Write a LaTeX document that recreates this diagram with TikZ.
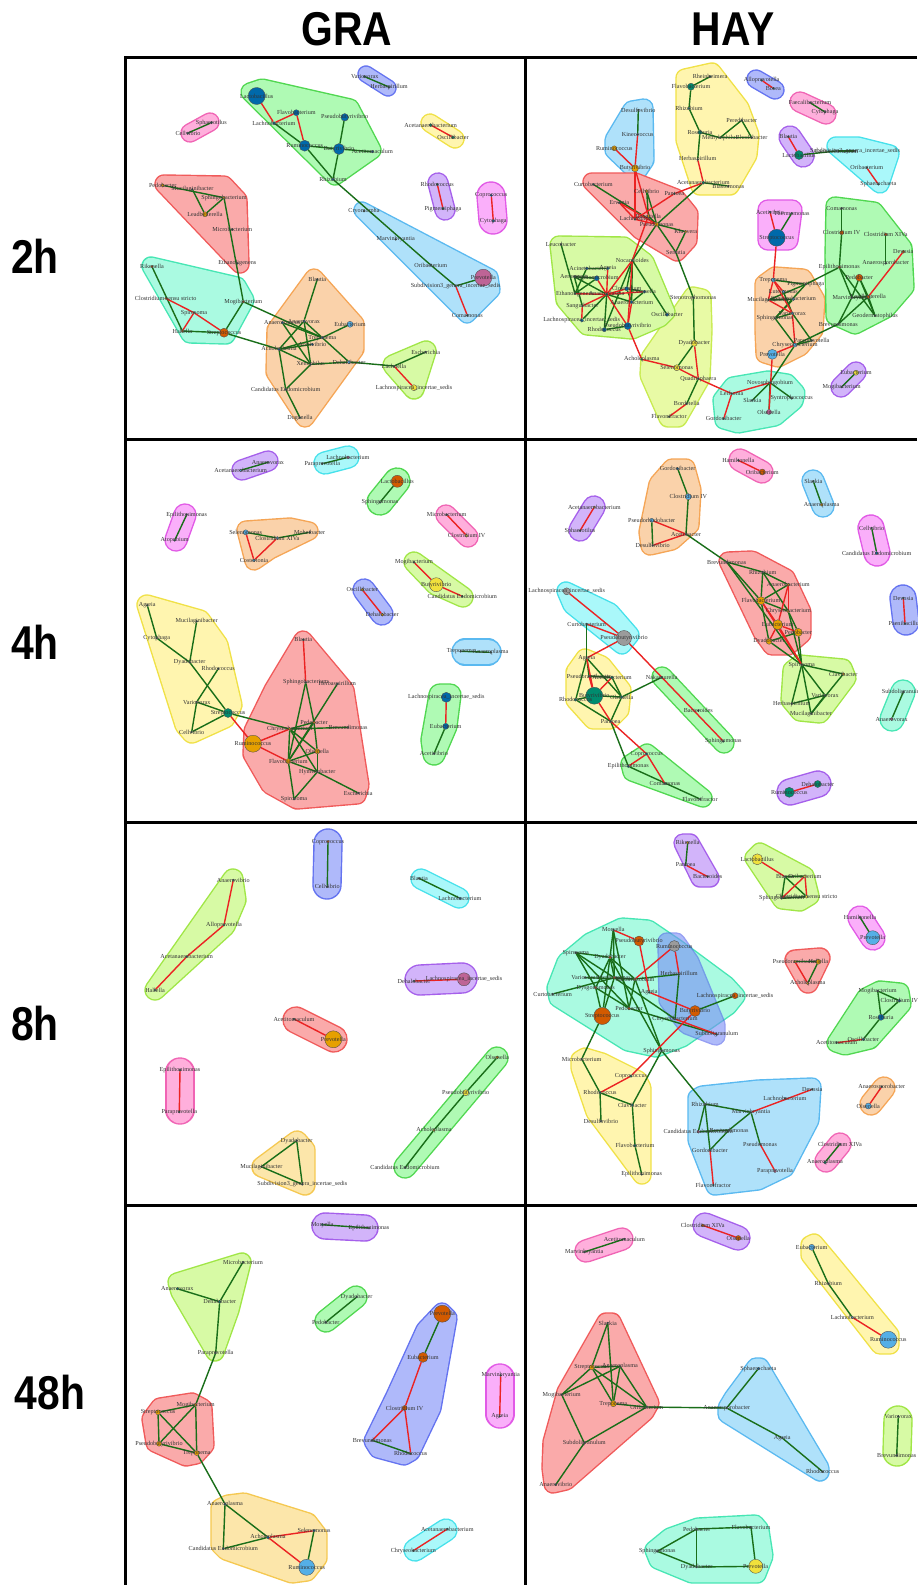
\documentclass[tikz,border=0pt]{standalone}
\usepackage{fontspec}
\usepackage{graphicx}
\newfontfamily\lblfont{Liberation Serif}
\newfontfamily\hdfont{Liberation Sans}
\pgfdeclarelayer{hulls}
\pgfdeclarelayer{edges}
\pgfsetlayers{hulls,edges,main}
\definecolor{ndblue}{RGB}{0,105,170}
\definecolor{norange}{RGB}{230,160,0}
\definecolor{ndorange}{RGB}{210,90,0}
\definecolor{nteal}{RGB}{0,140,110}
\definecolor{nlblue}{RGB}{85,175,230}
\definecolor{nyellow}{RGB}{240,225,60}
\definecolor{nmauve}{RGB}{190,100,150}
\definecolor{ngrey}{RGB}{155,155,155}
\definecolor{nsm}{RGB}{25,95,85}
\definecolor{egreen}{RGB}{25,110,25}
\definecolor{ered}{RGB}{235,35,35}
\definecolor{hgreenD}{RGB}{80,215,80}\definecolor{hgreenL}{RGB}{175,250,180}
\definecolor{hblueD}{RGB}{100,115,240}\definecolor{hblueL}{RGB}{175,185,250}
\definecolor{hdeepD}{RGB}{80,95,235}\definecolor{hdeepL}{RGB}{120,140,245}
\definecolor{hpinkD}{RGB}{240,100,180}\definecolor{hpinkL}{RGB}{255,175,220}
\definecolor{hmagD}{RGB}{225,90,230}\definecolor{hmagL}{RGB}{250,175,250}
\definecolor{hyellowD}{RGB}{240,225,70}\definecolor{hyellowL}{RGB}{255,245,175}
\definecolor{hredD}{RGB}{240,90,90}\definecolor{hredL}{RGB}{250,170,170}
\definecolor{hpurpD}{RGB}{165,95,235}\definecolor{hpurpL}{RGB}{210,180,250}
\definecolor{hcyanD}{RGB}{70,225,235}\definecolor{hcyanL}{RGB}{170,248,250}
\definecolor{hskyD}{RGB}{90,185,240}\definecolor{hskyL}{RGB}{175,225,250}
\definecolor{horgD}{RGB}{245,165,85}\definecolor{horgL}{RGB}{250,210,170}
\definecolor{hlimeD}{RGB}{160,230,70}\definecolor{hlimeL}{RGB}{215,250,165}
\definecolor{htealD}{RGB}{70,230,180}\definecolor{htealL}{RGB}{170,250,225}
\definecolor{hgoldD}{RGB}{245,200,80}\definecolor{hgoldL}{RGB}{252,230,170}
\definecolor{hlyD}{RGB}{200,235,80}\definecolor{hlyL}{RGB}{232,250,165}
\newcommand\blob[3]{%
  \path[draw=h#1D, fill=h#1D, line width={#2*1.138pt+0.8pt}, line join=round] #3 -- cycle;
  \path[draw=h#1L, fill=h#1L, line width={#2*1.138pt-0.8pt}, line join=round] #3 -- cycle;}
\begin{document}
\begin{tikzpicture}[x=0.2mm, y=-0.2mm,
    dot/.style={circle, draw=black!70, line width=0.2pt, inner sep=0pt},
    lbl/.style={font={\lblfont\fontsize{3.5}{4}\selectfont}, text=black!80, inner sep=0pt},
    hd/.style={font={\hdfont\bfseries\fontsize{27}{30}\selectfont}},
    posedge/.style={draw=egreen, line width=0.8pt},
    negedge/.style={draw=ered, line width=0.8pt},
    frame/.style={draw=black, line width=1.7pt}]
	\useasboundingbox (0,0) rectangle (917,1585);

	\node[hd] (gra) at (347,29) {\scalebox{0.86}[1]{GRA}};
	\node[hd] (hay) at (733,29) {\scalebox{0.86}[1]{HAY}};
	\node[hd] (t2) at (35,256) {\scalebox{0.86}[1]{2h}};
	\node[hd] (t4) at (35,642) {\scalebox{0.86}[1]{4h}};
	\node[hd] (t8) at (35,1024) {\scalebox{0.86}[1]{8h}};
	\node[hd] (t48) at (50,1393) {\scalebox{0.86}[1]{48h}};

	\begin{pgfonlayer}{hulls}
		\fill[white] (0,0) rectangle (917,1585);
		\blob{green}{9}{(250,92)--(262,88)--(350,108)--(372,150)--(335,176)}
		\blob{blue}{8}{(366,74)--(388,88)}
		\blob{pink}{9}{(190,133)--(210,122)}
		\blob{yellow}{9}{(430,123)--(455,139)}
		\blob{purp}{10}{(438,183)--(445,210)}
		\blob{mag}{14}{(491,196)--(493,220)}
		\blob{red}{9}{(164,184)--(224,185)--(238,200)--(240,264)}
		\blob{teal}{9}{(151,266)--(237,286)--(245,300)--(226,335)--(190,334)}
		\blob{sky}{8}{(362,210)--(490,277)--(492,290)--(467,315)}
		\blob{org}{9}{(276,330)--(314,278)--(355,324)--(355,349)--(305,418)--(275,372)}
		\blob{lime}{10}{(393,365)--(426,351)--(414,389)}

		\blob{yellow}{9}{(685,78)--(712,72)--(740,108)--(750,135)--(748,155)--(730,186)--(700,186)--(685,140)}
		\blob{sky}{9}{(614,140)--(632,110)--(644,108)--(645,160)--(637,172)--(614,150)}
		\blob{red}{9}{(592,182)--(635,182)--(676,198)--(689,214)--(688,240)--(677,252)--(640,230)}
		\blob{ly}{9}{(650,358)--(693,296)--(702,298)--(703,330)--(701,378)--(678,418)--(668,418)--(649,375)}
		\blob{lime}{9}{(559,245)--(624,246)--(645,262)--(666,312)--(660,318)--(632,330)--(587,326)--(565,300)}
		\blob{teal}{9}{(722,400)--(733,386)--(768,380)--(787,383)--(796,393)--(794,401)--(775,417)--(738,424)--(724,420)}
		\blob{mag}{10}{(768,210)--(792,210)--(788,240)--(768,240)}
		\blob{org}{9}{(764,284)--(775,276)--(803,278)--(816,300)--(814,330)--(800,347)--(778,358)--(765,354)--(764,330)}
		\blob{green}{9}{(835,206)--(874,211)--(903,248)--(905,287)--(886,309)--(855,325)--(835,316)--(834,256)}
		\blob{blue}{9}{(756,79)--(775,90)}
		\blob{pink}{10}{(800,102)--(826,114)}
		\blob{purp}{11}{(790,137)--(803,156)}
		\blob{cyan}{9}{(836,146)--(858,146)--(890,154)--(880,184)}
		\blob{purp}{10}{(856,372)--(841,387)}

		\blob{purp}{10}{(242,470)--(268,461)}
		\blob{cyan}{11}{(325,463)--(348,457)}
		\blob{green}{13}{(397,481)--(380,502)}
		\blob{mag}{11}{(185,515)--(176,540)}
		\blob{org}{9}{(246,530)--(290,527)--(309,531)--(270,550)--(254,561)}
		\blob{pink}{10}{(446,515)--(468,537)}
		\blob{lime}{10}{(414,562)--(436,585)--(463,597)}
		\blob{blue}{11}{(364,590)--(382,614)}
		\blob{sky}{13}{(465,652)--(488,652)}
		\blob{green}{11}{(440,695)--(450,695)--(446,726)--(434,754)--(432,740)}
		\blob{yellow}{10}{(147,605)--(200,620)--(218,645)--(232,705)--(225,718)--(192,733)--(185,725)}
		\blob{red}{9}{(253,731)--(273,690)--(303,640)--(345,690)--(360,785)--(357,795)--(297,800)--(270,785)--(252,754)}

		\blob{pink}{11}{(740,460)--(762,472)}
		\blob{sky}{11}{(813,481)--(823,506)}
		\blob{mag}{13}{(871,528)--(877,553)}
		\blob{blue}{13}{(903,598)--(906,622)}
		\blob{teal}{12}{(903,692)--(892,719)}
		\blob{purp}{13}{(790,792)--(818,784)}
		\blob{purp}{11}{(594,507)--(580,530)}
		\blob{org}{9}{(648,532)--(658,484)--(672,468)--(686,468)--(692,490)--(690,525)--(672,541)--(650,546)}
		\blob{red}{9}{(728,561)--(752,560)--(786,578)--(802,612)--(802,634)--(788,646)--(772,646)--(762,632)}
		\blob{lime}{9}{(792,670)--(800,664)--(843,668)--(847,678)--(820,714)--(800,712)--(790,700)}
		\blob{cyan}{9}{(566,591)--(610,612)--(630,635)--(622,645)--(572,605)}
		\blob{yellow}{9}{(575,672)--(585,658)--(602,665)--(622,690)--(620,710)--(610,720)--(593,720)--(575,700)}
		\blob{green}{10}{(662,677)--(724,743)}
		\blob{green}{9}{(630,764)--(647,753)--(703,798)--(632,772)}

		\blob{blue}{14}{(328,843)--(327,885)}
		\blob{cyan}{10}{(421,879)--(459,898)}
		\blob{lime}{10}{(155,990)--(233,879)--(236,900)--(225,926)}
		\blob{purp}{15}{(420,980)--(462,978)}
		\blob{red}{13}{(296,1020)--(334,1039)}
		\blob{pink}{14}{(180,1072)--(180,1110)}
		\blob{green}{11}{(405,1167)--(497,1058)}
		\blob{gold}{10}{(262,1167)--(297,1141)--(305,1150)--(305,1185)}

		\blob{purp}{9}{(683,843)--(690,843)--(710,878)--(700,878)}
		\blob{lime}{9}{(754,858)--(760,852)--(805,876)--(810,896)--(800,902)--(782,900)}
		\blob{mag}{12}{(860,918)--(873,938)}
		\blob{red}{10}{(795,960)--(820,958)--(808,983)}
		\blob{green}{9}{(836,1043)--(866,997)--(880,990)--(900,992)--(902,1004)--(870,1040)--(845,1046)}
		\blob{org}{11}{(871,1104)--(884,1088)}
		\blob{pink}{11}{(840,1144)--(826,1161)}
		\blob{teal}{9}{(556,988)--(566,962)--(590,942)--(622,927)--(648,929)--(676,948)--(726,985)--(736,996)--(728,1006)--(682,1038)--(656,1048)--(628,1042)--(558,998)}
		\begin{scope}[transparency group, opacity=0.6]
			\blob{deep}{9}{(667,942)--(676,942)--(690,962)--(716,1025)--(716,1036)--(687,1025)--(668,1000)}
		\end{scope}
		\blob{yellow}{9}{(580,1060)--(585,1057)--(602,1062)--(638,1080)--(642,1088)--(642,1175)--(595,1112)--(580,1068)}
		\blob{sky}{9}{(697,1098)--(702,1095)--(758,1089)--(812,1087)--(810,1120)--(785,1168)--(758,1181)--(715,1186)--(697,1140)}

		\blob{purp}{13}{(325,1226)--(365,1228)}
		\blob{lime}{9}{(177,1282)--(242,1262)--(230,1310)--(215,1352)--(180,1292)}
		\blob{green}{11}{(356,1297)--(326,1321)}
		\blob{blue}{9}{(373,1441)--(395,1396)--(425,1330)--(442,1312)--(448,1318)--(432,1408)--(411,1452)--(404,1456)--(378,1449)}
		\blob{mag}{14}{(500,1378)--(500,1414)}
		\blob{red}{9}{(151,1419)--(160,1407)--(192,1402)--(203,1408)--(205,1445)--(196,1455)--(186,1457)--(155,1443)}
		\blob{gold}{9}{(220,1508)--(228,1504)--(244,1502)--(308,1522)--(318,1535)--(318,1558)--(307,1572)--(292,1574)--(226,1551)--(220,1545)}
		\blob{cyan}{11}{(446,1530)--(415,1550)}

		\blob{purp}{12}{(705,1225)--(738,1238)}
		\blob{pink}{11}{(586,1251)--(622,1239)}
		\blob{yellow}{9}{(810,1245)--(814,1243)--(830,1262)--(890,1335)--(890,1345)--(880,1345)--(810,1255)}
		\blob{lime}{14}{(898,1420)--(897,1452)}
		\blob{red}{9}{(552,1442)--(566,1392)--(606,1322)--(612,1322)--(650,1403)--(645,1412)--(566,1481)--(553,1484)--(551,1468)}
		\blob{sky}{9}{(727,1408)--(733,1398)--(756,1367)--(760,1367)--(820,1468)--(820,1472)--(727,1414)}
		\blob{teal}{9}{(654,1550)--(670,1537)--(698,1527)--(755,1524)--(760,1530)--(764,1556)--(757,1574)--(692,1574)--(658,1560)}
	\end{pgfonlayer}

	\foreach \n/\x/\y/\col/\sz/\lab in {
		a-lac/256.7/96/ndblue/17/Lactobacillus, a-flv/296.3/112.7/ndblue/6/Flavobacterium,
		a-lcb/274/123/ndblue/3/Lachnobacterium, a-psb/344.7/117.3/ndblue/7.5/Pseudobutyrivibrio,
		a-rum/304.7/145.7/ndblue/11/Ruminococcus, a-but/339/149/ndblue/11/Butyrivibrio,
		a-acm/372.3/151.7/ndblue/2.5/Acetitomaculum, a-rhz/333/179.3/ndblue/2.5/Rhizobium,
		a-vrx/364.7/76.7/nsm/2.5/Variovorax, a-hbs/389/87/nsm/2.5/Herbaspirillum,
		a-sph/211.3/122.7/nsm/2.5/Sphaerotilus, a-cvb/188/133/nsm/2.5/Cellvibrio,
		a-aca/430.7/125/nteal/3/Acetanaerobacterium, a-osc/453/137.3/nteal/3/Oscillibacter,
		a-rho/437.3/184.3/nsm/2.5/Rhodococcus, a-pig/443/208.7/nsm/2.5/Pigmentiphaga,
		a-cop/491.3/195.3/ndblue/2.5/Coprococcus, a-cyt/493.3/221/ndblue/2.5/Cytophaga,
		a-ped/162.7/185.3/norange/3.5/Pedobacter, a-muc/192.3/189.3/nsm/2/Mucilaginibacter,
		a-spb/224/197.7/norange/2.5/Sphingobacterium, a-lea/205/214.3/norange/5/Leadbetterella,
		a-mic/232.3/229.3/nsm/2/Microbacterium, a-eth/237.3/263.3/nsm/2/Ethanoligenens,
		a-rik/152/266.7/ndorange/2.5/Rikenella, a-css/165.7/298.3/ndorange/2/Clostridium sensu stricto,
		a-spi/194/312.7/ndorange/2/Spirosoma, a-hal/182.3/331/ndorange/2.5/Hallella,
		a-str/224/332.7/ndorange/9/Streptococcus, a-mog/243.3/301.7/ndorange/2.5/Mogibacterium,
		a-cry/364/211/nsm/2/Cryomorpha, a-mar/395.7/239.3/nsm/2/Marvinbryantia,
		a-ori/430.7/265/nsm/2.5/Oribacterium, a-pre/483.3/277.7/nmauve/17/Prevotella,
		a-sub/455.7/286/nsm/2/Subdivision3\_genera\_incertae\_sedis, a-com/467.3/315.3/nsm/2/Comamonas,
		a-bla/317.3/279.3/nsm/2/Blautia, a-anv/304/321/ndblue/2.5/Anaerovorax,
		a-ant/282.3/322.7/ndblue/2.5/Anaerotruncus, a-tre/322.3/337.7/ndblue/2.5/Treponema,
		a-ach/279/349.3/ndblue/2.5/Acholeplasma, a-acv/312.3/344.3/ndblue/2.5/Acetivibrio,
		a-eub/350/324.3/nlblue/6/Eubacterium, a-xen/310.7/364.3/nsm/2/Xenophilus,
		a-deh/349/362/nlblue/3.5/Dehalobacter, a-cen/285.7/389.3/nsm/2/Candidatus Endomicrobium,
		a-dug/300/417.7/nsm/2/Duganella, a-esc/425.7/352/nsm/2/Escherichia,
		a-lcn/394/366/nsm/2/Lachnella, a-lis/414/387.7/nyellow/6/Lachnospiracea\_incertae\_sedis} {
		\node[dot, fill=\col, minimum size=\sz*0.2mm] (\n) at (\x,\y) {};
		\node[lbl] at (\x,\y) {\lab};
	}

	\foreach \n/\x/\y/\col/\sz/\lab in {
		b-rhe/710/76.7/nsm/2.5/Rheinheimera, b-flb/691/86.7/nteal/7/Flavobacterium,
		b-rhz/689/108.3/nteal/2.5/Rhizobium, b-ros/700/132.3/nteal/4/Roseburia,
		b-per/741.7/120.3/nsm/2/Peredibacter, b-mth/720/137.7/nsm/2/Methylophilus,
		b-rhb/751.7/137.7/nsm/2/Rhodobacter, b-hbs/697.7/159.3/nsm/2/Herbaspirillum,
		b-aca/703.3/182.7/nteal/3/Acetanaerobacterium, b-blm/728.3/186/nsm/2/Blastomonas,
		b-des/638.3/110/nsm/2/Desulfovibrio, b-kin/637.7/134.3/nsm/2/Kineococcus,
		b-rmc/614.3/148.3/norange/5/Ruminococcus, b-btv/635/168.3/norange/7/Butyrivibrio,
		b-cur/593.3/184.3/nsm/2/Curtobacterium, b-cvb/646.7/191/norange/3/Cellvibrio,
		b-pan/674.3/193.7/nsm/2/Pantoea, b-erw/619.3/202.7/nsm/2/Erwinia,
		b-lch/635/219.3/nsm/2/Lachnospira, b-rao/648.3/216/norange/3/Raoultella,
		b-pse/656.7/224.3/norange/4/Pseudomonas, b-kle/685.7/231.7/norange/2.5/Kluyvera,
		b-ser/675.7/252/nsm/2/Serratia, b-leu/561/244.3/nsm/2/Leucobacter,
		b-noc/632.3/260.3/nsm/2/Nocardioides, b-aci/586.7/268.3/ndblue/3/Acinetobacter,
		b-agr/607.7/268.3/ndblue/3/Agreia, b-aer/574.3/276.7/nsm/2/Aeromonas,
		b-hyp/596.7/278.3/ndblue/5/Hyphomicrobium, b-clo/626.7/288.7/ndblue/4/Clostridium,
		b-ola/644.3/291.7/ndblue/3/Olsenella, b-eth/575/293.7/nsm/2/Ethanoligenens,
		b-anp/606.7/294.3/nsm/2.5/Anaeroplasma, b-amn/631.7/302/ndblue/3/Anaerobacterium,
		b-san/582.3/306/nsm/2/Sanguibacter, b-osc/667/314.7/ndblue/3.5/Oscillibacter,
		b-lis/581.7/320.3/ndblue/3.5/Lachnospiracea\_incertae\_sedis, b-rhd/604.3/329.7/ndblue/4/Rhodococcus,
		b-psb/627.7/326/ndblue/7/Pseudobutyrivibrio, b-ste/693.3/297.7/nsm/2/Stenotrophomonas,
		b-dya/694.3/343.3/nyellow/6/Dyadobacter, b-ach/641.7/359.3/nsm/2/Acholeplasma,
		b-sel/676.7/367.7/nyellow/6/Selenomonas, b-qua/698.3/378.7/nsm/2/Quadrisphaera,
		b-bor/686.7/403.7/nsm/2/Bordetella, b-flf/669/416.7/nsm/2/Flavonifractor,
		b-nov/770/382.7/nsm/2/Novosphingobium, b-lei/731.7/393.7/nsm/2/Leifsonia,
		b-sla/752.3/400.3/nsm/2/Slackia, b-syn/791.7/398.3/nsm/2/Syntrophococcus,
		b-ols/769/412/nmauve/5/Olsenella, b-gor/723.7/418.7/nsm/2/Gordonibacter,
		b-acv/770/212/nsm/2/Acetivibrio, b-thm/791.7/213.3/nsm/2/Thermomonas,
		b-stc/776.7/237.7/ndblue/17/Streptococcus, b-tre/773.3/280/nlblue/4/Treponema,
		b-pgm/805.7/284.3/nsm/2/Pigmentiphaga, b-lut/783.3/291.7/nlblue/3/Luteimonas,
		b-muc/768.3/300/nsm/2/Mucilaginibacter, b-spb/793.3/299.3/nlblue/3/Sphingobacterium,
		b-vrx/792.3/313.3/nlblue/3/Variovorax, b-sgm/775/318.3/nsm/2/Sphingomonas,
		b-chr/795/345/nlblue/4/Chryseobacterium, b-ppv/811.7/340.7/nsm/2/Paraprevotella,
		b-prv/772.3/354.3/nlblue/10/Prevotella, b-com/841.7/208.3/nsm/2/Comamonas,
		b-c4/841.7/232.7/ndorange/4/Clostridium IV, b-cxv/885.7/234.3/ndorange/3/Clostridium XIVa,
		b-dev/903.3/251.7/ndorange/3/Devosia, b-ana/885.7/263.3/nsm/2/Anaerosporobacter,
		b-epi/839.3/267.3/ndorange/3/Epilithonimonas, b-ped/859.3/277.7/ndorange/7/Pedobacter,
		b-mar/851.7/297.7/nsm/2/Marvinbryantia, b-lea/868.3/296.7/ndorange/3.5/Leadbetterella,
		b-geo/875/315.7/nsm/2/Geodermatophilus, b-brv/838.3/324/nsm/2/Brevundimonas,
		b-all/761.7/80.3/nsm/2/Alloprevotella, b-bos/773.3/88.3/nsm/2/Bosea,
		b-fae/810/102.7/nsm/2/Faecalibacterium, b-cyt/825/112/nsm/2/Cytophaga,
		b-bla/788.3/136.7/nsm/2/Blautia, b-lcl/799/155/nteal/9/Lactobacillus,
		b-sdv/855/151/nsm/2/Subdivision3\_genera\_incertae\_sedis, b-lcb/836.7/151/nsm/2/Lachnobacterium,
		b-ori/866.7/167.7/nsm/2/Oribacterium, b-sph/878.3/184.3/nsm/2/Sphaerochaeta,
		b-eub/856/372.7/nyellow/5/Eubacterium, b-mgb/841.7/387/nsm/2/Mogibacterium} {
		\node[dot, fill=\col, minimum size=\sz*0.2mm] (\n) at (\x,\y) {};
		\node[lbl] at (\x,\y) {\lab};
	}

	\foreach \n/\x/\y/\col/\sz/\lab in {
		c-avx/268/462.3/nsm/2/Anaerovorax, c-aca/240.7/470.3/nlblue/2.5/Acetanaerobacterium,
		c-lch/348/457.3/nmauve/3/Lachnobacterium, c-ppv/322.3/463.7/nsm/2/Paraprevotella,
		c-lct/397.3/481.3/ndorange/12/Lactobacillus, c-sgm/380/502.3/nsm/2/Sphingomonas,
		c-epi/186.7/514.7/nsm/2/Epilithonimonas, c-ato/174.7/540.3/nsm/2/Atopobium,
		c-sel/245.7/532.3/nlblue/5/Selenomonas, c-cxv/277.3/538/nlblue/3/Clostridium XIVa,
		c-mhb/309.7/532.3/nsm/2/Moheibacter, c-cst/254/560.3/nlblue/3/Costertonia,
		c-mic/446.7/514.7/nsm/2/Microbacterium, c-c4/466.7/535.7/nyellow/3/Clostridium IV,
		c-mog/414/562.3/nsm/2/Mogibacterium, c-btv/436.3/584.7/nyellow/14/Butyrivibrio,
		c-cen/462.3/596.3/nsm/2/Candidatus Endomicrobium, c-osc/362.3/589.7/norange/3/Oscillibacter,
		c-deh/382.3/614.7/norange/3/Dehalobacter, c-tre/460.7/651.3/nsm/2/Treponema,
		c-anp/490.7/652.3/nsm/2/Anaeroplasma, c-lis/446.3/697.3/ndblue/10/Lachnospiracea\_incertae\_sedis,
		c-eub/445.7/726.3/ndblue/6/Eubacterium, c-acv/434/753.7/nsm/2/Acetivibrio,
		c-agr/147.3/605.3/nsm/2/Agreia, c-mcl/196.7/621.3/nsm/2/Mucilaginibacter,
		c-cyt/156.7/638/nsm/2/Cytophaga, c-dya/189.7/662.3/nsm/2/Dyadobacter,
		c-rho/218.3/668.7/nsm/2/Rhodococcus, c-vrx/196.7/702/nsm/2/Variovorax,
		c-stp/228/713/nteal/9/Streptococcus, c-cvb/191.7/732/nsm/2/Cellvibrio,
		c-bla/303.3/639.7/nsm/2/Blautia, c-sgb/305.7/682.3/nsm/2/Sphingobacterium,
		c-hbs/337.3/684/nsm/2/Herbaspirillum, c-ped/314/722.3/norange/3/Pedobacter,
		c-brv/348/727.3/nsm/2/Brevundimonas, c-chr/289.7/729/norange/3/Chryseobacterium,
		c-rum/253/743.7/norange/17/Ruminococcus, c-ols/317.3/751.3/norange/5/Olsenella,
		c-flv/288.3/761.3/norange/5/Flavobacterium, c-hym/317.3/772/nsm/2/Hymenobacter,
		c-esc/358.3/793/nsm/2/Escherichia, c-spr/294/799/nsm/2/Spirosoma} {
		\node[dot, fill=\col, minimum size=\sz*0.2mm] (\n) at (\x,\y) {};
		\node[lbl] at (\x,\y) {\lab};
	}

	\foreach \n/\x/\y/\col/\sz/\lab in {
		d-ham/738.3/460.3/nsm/2/Hamiltonella, d-ori/762.3/472/ndorange/6/Oribacterium,
		d-sla/813.3/481.3/nsm/2/Slackia, d-anp/821.7/504.7/norange/3/Anaeroplasma,
		d-cvb/871.7/528/nsm/2/Cellvibrio, d-cen/876.7/553/ndblue/3/Candidatus Endomicrobium,
		d-dev/903.3/598/nsm/2/Devosia, d-pae/905/623.7/nsm/2/Paenibacillus,
		d-sdl/903.3/692/nsm/2/Subdoligranulum, d-avx/891.7/719/nmauve/3/Anaerovorax,
		d-rum/789.3/792.3/nteal/10/Ruminococcus, d-deh/817.7/784/nteal/7/Dehalobacter,
		d-aca/594.3/507/norange/2/Acetanaerobacterium, d-sph/580/530.7/nsm/2/Sphaerotilus,
		d-gor/677.7/468.7/ndblue/2.5/Gordonibacter, d-c4/688.3/496.7/nlblue/6/Clostridium IV,
		d-psr/651.7/520.3/nlblue/4/Pseudorhodobacter, d-acb/686/534/nsm/2/Acetobacter,
		d-dsv/652.7/545.3/nsm/2/Desulfovibrio, d-brv/726.7/562/nsm/2/Brevundimonas,
		d-rhz/762.7/572/nsm/2/Rhizobium, d-ana/788.3/584.7/norange/3/Anaerobacterium,
		d-flv/761/600.7/norange/8/Flavobacterium, d-chr/788.3/611.3/norange/3/Chryseobacterium,
		d-eub/777.7/624.7/norange/10/Eubacterium, d-ped/798.3/632.3/norange/8/Pedobacter,
		d-dya/769/641.3/norange/6/Dyadobacter, d-spi/801.7/664.7/nsm/2/Spirosoma,
		d-clv/843.3/674/norange/2.5/Clavibacter, d-vrx/825/695.3/nsm/2/Variovorax,
		d-hbs/791.7/703.7/nsm/2/Herbaspirillum, d-mcl/811/713.7/nsm/2/Mucilaginibacter,
		d-lis/566.7/591.3/ngrey/7/Lachnospiracea\_incertae\_sedis, d-cur/586.7/624/nsm/2/Curtobacterium,
		d-psb/624/638/ngrey/15/Pseudobutyrivibrio, d-agr/586.7/658/nsm/2/Agreia,
		d-prb/589/676/nsm/2/Pseudoramibacter, d-acm/612/677.3/nteal/3/Acetobacterium,
		d-btv/594.3/695.7/nteal/17/Butyrivibrio, d-rhd/575.7/699.7/nteal/3/Rhodococcus,
		d-ols/621.7/697/nteal/3/Olsenella, d-pan/610.7/721.3/nsm/2/Pantoea,
		d-nak/661.7/677.3/nsm/2/Nakamurella, d-bac/698.3/710.7/nsm/2/Bacteroides,
		d-sgm/723.3/741.3/nsm/2/Sphingomonas, d-cop/646.7/754/ndblue/2.5/Coprococcus,
		d-eps/628.3/766.3/ndblue/2.5/Epilithonimonas, d-cmm/665/783.7/nsm/2/Comamonas,
		d-flf/700/799/nsm/2/Flavonifractor} {
		\node[dot, fill=\col, minimum size=\sz*0.2mm] (\n) at (\x,\y) {};
		\node[lbl] at (\x,\y) {\lab};
	}

	\foreach \n/\x/\y/\col/\sz/\lab in {
		e-cop/328/841.7/ndorange/2.5/Coprococcus, e-cvb/327.3/886.7/nsm/2/Cellvibrio,
		e-bla/419/878.3/nsm/2/Blautia, e-lcb/460/898.3/ndblue/2.5/Lachnobacterium,
		e-anv/233.3/880/nsm/2/Anaerovibrio, e-alp/224/925/nsm/2/Alloprevotella,
		e-acb/186.7/956.7/nsm/2/Acetanaerobacterium, e-hal/155/990/nsm/2/Hallella,
		e-deh/414/981/nsm/2/Dehalobacter, e-lis/464/979.3/nmauve/13/Lachnospiracea\_incertae\_sedis,
		e-acm/294/1019/nsm/2/Acetitomaculum, e-prv/333.3/1039.3/norange/17/Prevotella,
		e-epi/180/1070/nsm/2/Epilithonimonas, e-ppv/179.3/1112/nsm/2/Paraprevotella,
		e-olb/497.3/1057.3/norange/3/Olsenella, e-pbv/465.7/1092.7/nyellow/6/Pseudobutyrivibrio,
		e-ach/434/1130/norange/2.5/Acholeplasma, e-cen/405/1167.7/nsm/2/Candidatus Endomicrobium,
		e-dya/296.7/1140.7/nsm/2/Dyadobacter, e-mcl/261.3/1166.7/nsm/2/Mucilaginibacter,
		e-sdv/302.3/1184.3/nsm/2/Subdivision3\_genera\_incertae\_sedis} {
		\node[dot, fill=\col, minimum size=\sz*0.2mm] (\n) at (\x,\y) {};
		\node[lbl] at (\x,\y) {\lab};
	}

	\foreach \n/\x/\y/\col/\sz/\lab in {
		f-rik/687.7/842.7/norange/2.5/Rikenella, f-pan/685.7/865/nsm/2/Pantoea,
		f-bac/707.7/876.7/nsm/2/Bacteroides, f-lcb/757.3/859.3/nyellow/11/Lactobacillus,
		f-bla/785/876.7/nsm/2/Blautia, f-ori/805/876/nyellow/3/Oribacterium,
		f-spb/781.7/898.3/nsm/2/Sphingobacterium, f-css/806.7/896.7/nyellow/3/Clostridium sensu stricto,
		f-ham/860/917.3/nsm/2/Hamiltonella, f-prv/872.7/937.7/nlblue/14/Prevotella,
		f-psb/795/961.7/norange/2.5/Pseudoramibacter, f-hal/818.3/961.7/norange/5/Hallella,
		f-ach/807.7/983.3/norange/2.5/Acholeplasma, f-mog/877.7/991/nsm/2/Mogibacterium,
		f-c4/899.3/1000.7/ndblue/3/Clostridium IV, f-ros/881/1017.3/ndblue/6/Roseburia,
		f-osc/863.3/1039.3/ndblue/2.5/Oscillibacter, f-acm/836.7/1042.7/nsm/2/Acetitomaculum,
		f-ana/881.7/1086.7/nsm/2/Anaerosporobacter, f-ols/868.3/1106/nlblue/6/Olsenella,
		f-cxv/840/1144/nsm/2/Clostridium XIVa, f-anp/825/1162.3/nteal/3/Anaeroplasma,
		f-mry/613.3/930/nsm/2/Moryella, f-psv/639/941/ndorange/10/Pseudobutyrivibrio,
		f-rum/674.3/946/ngrey/11/Ruminococcus, f-spi/575.7/952.7/nsm/2/Spirosoma,
		f-dya/610/957.3/ndorange/3/Dyadobacter, f-hbs/679/974.3/nsm/2/Herbaspirillum,
		f-vrx/585/977.7/nsm/2/Variovorax, f-hyp/614.3/977.7/ndorange/2.5/Hyphomonas,
		f-mes/635/979/ndorange/2.5/Mesorhizobium, f-dap/595.7/987.7/ndorange/2.5/Dysgonomonas,
		f-cur/552.7/994/nsm/2/Curtobacterium, f-agr/649.3/992.3/nsm/2/Agreia,
		f-lis/735/995.7/ndorange/6/Lachnospiracea\_incertae\_sedis, f-ped/629/1008.3/ndorange/3/Pedobacter,
		f-btv/695/1011/ndorange/11/Butyrivibrio, f-str/602.3/1016/ndorange/17/Streptococcus,
		f-chr/675/1019/nsm/2/Chryseobacterium, f-sdg/716.7/1034.3/nsm/2/Subdoligranulum,
		f-sgm/661.7/1050.7/nsm/2/Sphingomonas, f-mic/581.7/1059/nsm/2/Microbacterium,
		f-cpc/631/1076/nteal/2.5/Coprococcus, f-rhd/600/1092.7/nteal/2.5/Rhodococcus,
		f-clv/632.3/1105/nteal/2.5/Clavibacter, f-dsv/601/1121/nsm/2/Desulfovibrio,
		f-flv/635/1145.7/nteal/3/Flavobacterium, f-epi/641.7/1174.3/nsm/2/Epilithonimonas,
		f-rhz/705/1104/nsm/2/Rhizobium, f-dev/812.3/1089.3/nsm/2/Devosia,
		f-lcn/785/1098.3/nsm/2/Lachnobacterium, f-mar/751/1112.3/nsm/2/Marvinbryantia,
		f-cen/698.3/1131.7/nmauve/3/Candidatus Endomicrobium, f-bre/729/1130/nsm/2/Brevundimonas,
		f-pse/760/1144/nsm/2/Pseudomonas, f-gor/710/1150/nsm/2/Gordonibacter,
		f-ppv/775/1171/nmauve/3/Paraprevotella, f-flf/713.3/1185/nsm/2/Flavonifractor} {
		\node[dot, fill=\col, minimum size=\sz*0.2mm] (\n) at (\x,\y) {};
		\node[lbl] at (\x,\y) {\lab};
	}

	\foreach \n/\x/\y/\col/\sz/\lab in {
		g-mry/322.3/1224.7/nteal/2.5/Moryella, g-epi/369/1228/nsm/2/Epilithonimonas,
		g-mic/243/1262/nsm/2/Microbacterium, g-avx/177.3/1288.7/nteal/2.5/Anaerovorax,
		g-deh/219.7/1301.7/nteal/3/Dehalobacter, g-ppv/215.7/1353/nsm/2/Paraprevotella,
		g-dya/356.7/1297/nsm/2/Dyadobacter, g-ped/325.7/1322.3/nsm/2/Pedobacter,
		g-prv/442.3/1313.7/ndorange/17/Prevotella, g-eub/423/1357.3/ndorange/10/Eubacterium,
		g-c4/404.7/1408/ndorange/5/Clostridium IV, g-brv/372.3/1440.3/nsm/2/Brevundimonas,
		g-rhd/410.7/1453.7/nsm/2/Rhodococcus, g-mvb/500.7/1375.3/nsm/2/Marvinbryantia,
		g-agr/499.7/1416.3/nsm/2/Agreia, g-mog/195.7/1404.7/norange/3/Mogibacterium,
		g-stc/158/1412.3/norange/5/Streptococcus, g-psb/159/1443.7/norange/5/Pseudobutyrivibrio,
		g-tre/196.7/1453/norange/5/Treponema, g-anp/225/1504/ndblue/2.5/Anaeroplasma,
		g-ach/268/1537.3/ndblue/3/Acholeplasma, g-sel/314/1530.7/ndblue/2.5/Selenomonas,
		g-cen/223.3/1548.7/ndblue/2/Candidatus Endomicrobium, g-rmc/306.7/1567.3/nlblue/16/Ruminococcus,
		g-acb/447.3/1529/nsm/2/Acetanaerobacterium, g-chr/413.3/1550.7/nsm/2/Chryseobacterium} {
		\node[dot, fill=\col, minimum size=\sz*0.2mm] (\n) at (\x,\y) {};
		\node[lbl] at (\x,\y) {\lab};
	}

	\foreach \n/\x/\y/\col/\sz/\lab in {
		h-cxv/702.7/1225.3/ndorange/3/Clostridium XIVa, h-olb/738.3/1238/ndorange/5/Olsenella,
		h-acm/624.3/1239/nsm/2/Acetitomaculum, h-mvb/584.3/1252/nsm/2/Marvinbryantia,
		h-eub/811.7/1247.3/nlblue/6/Eubacterium, h-rhz/828.3/1283.7/nsm/2/Rhizobium,
		h-lcb/852.3/1317.3/nlblue/2.5/Lachnobacterium, h-rmc/888.3/1339.7/nlblue/17/Ruminococcus,
		h-vrx/898.3/1416.3/nsm/2/Variovorax, h-brv/896.7/1455.3/nsm/2/Brevundimonas,
		h-sla/607.7/1323/nsm/2/Slackia, h-stc/591.7/1367.3/norange/5/Streptococcus,
		h-anp/620/1366.3/nsm/2/Anaeroplasma, h-mog/561.7/1394.7/nsm/2/Mogibacterium,
		h-tre/613.3/1403.7/norange/6/Treponema, h-ori/646.7/1407/nsm/2/Oribacterium,
		h-sdl/584.3/1443/nsm/2/Subdoligranulum, h-anv/555.7/1484.7/nsm/2/Anaerovibrio,
		h-sph/758.3/1368.7/ndblue/2.5/Sphaerochaeta, h-aps/726.7/1408/nsm/2/Anaerosporobacter,
		h-agr/782.3/1438/nsm/2/Agreia, h-rhd/822.7/1471.7/nsm/2/Rhodococcus,
		h-ped/696.7/1529/nsm/2/Pedobacter, h-flv/751/1527/nsm/2/Flavobacterium,
		h-sgm/657.3/1551.3/nsm/2/Sphingomonas, h-dya/696.7/1567/nsm/2/Dyadobacter,
		h-prv/755.7/1566.3/nyellow/14/Prevotella} {
		\node[dot, fill=\col, minimum size=\sz*0.2mm] (\n) at (\x,\y) {};
		\node[lbl] at (\x,\y) {\lab};
	}

	\begin{pgfonlayer}{edges}
		\foreach \p/\q in {a-lcb/a-rum, a-rum/a-but, a-but/a-acm, a-psb/a-but, a-but/a-rhz, a-rum/a-rhz,
			a-rhz/a-ori, a-ori/a-sub, a-sub/a-pre, a-vrx/a-hbs, a-sph/a-cvb, a-ped/a-spb, a-muc/a-lea,
			a-lea/a-spb, a-spb/a-mog, a-rik/a-hal, a-hal/a-str, a-str/a-mog, a-str/a-ach, a-mog/a-tre,
			a-bla/a-anv, a-anv/a-ach, a-anv/a-xen, a-anv/a-tre, a-ant/a-tre, a-ant/a-xen, a-ach/a-tre,
			a-ach/a-acv, a-ach/a-xen, a-ach/a-cen, a-tre/a-eub, a-tre/a-deh, a-xen/a-deh, a-xen/a-cen,
			a-cen/a-dug, a-deh/a-lcn, a-lcn/a-esc}
			\draw[posedge] (\p) -- (\q);
		\foreach \p/\q in {a-lac/a-lcb, a-lcb/a-flv, a-flv/a-rum, a-sub/a-com, a-aca/a-osc, a-rho/a-pig,
			a-cop/a-cyt, a-css/a-spi, a-spi/a-str, a-spi/a-hal, a-lcn/a-lis}
			\draw[negedge] (\p) -- (\q);

		\foreach \p/\q in {b-rhe/b-flb, b-flb/b-rhz, b-rhz/b-ros, b-ros/b-hbs, b-ros/b-mth, b-per/b-mth,
			b-per/b-rhb, b-mth/b-rhb, b-aca/b-blm, b-aca/b-pse, b-des/b-kin, b-cur/b-pse, b-cvb/b-pse,
			b-cvb/b-rao, b-rao/b-pse, b-pse/b-kle, b-pse/b-ser, b-kle/b-ser, b-pse/b-noc, b-ser/b-ste,
			b-ste/b-dya, b-leu/b-eth, b-noc/b-clo, b-noc/b-amn, b-noc/b-osc, b-noc/b-rhd, b-aci/b-agr,
			b-aci/b-eth, b-aer/b-hyp, b-aer/b-anp, b-aer/b-san, b-hyp/b-eth, b-anp/b-amn, b-anp/b-lis,
			b-anp/b-rhd, b-clo/b-ola, b-clo/b-amn, b-ola/b-amn, b-rhd/b-psb, b-dya/b-sel, b-qua/b-bor,
			b-nov/b-sla, b-nov/b-syn, b-nov/b-ols, b-nov/b-chr, b-thm/b-stc, b-tre/b-pgm, b-pgm/b-muc,
			b-pgm/b-sgm, b-lut/b-vrx, b-muc/b-spb, b-spb/b-sgm, b-vrx/b-sgm, b-sgm/b-chr, b-vrx/b-ppv,
			b-chr/b-ppv, b-com/b-c4, b-c4/b-epi, b-cxv/b-ana, b-epi/b-mar, b-epi/b-geo, b-epi/b-pgm,
			b-ped/b-mar, b-ped/b-lea, b-ped/b-geo, b-mar/b-lea, b-mar/b-brv, b-lea/b-brv, b-lea/b-geo,
			b-brv/b-chr, b-fae/b-cyt, b-lcl/b-lcb, b-lcb/b-sdv, b-eub/b-mgb}
			\draw[posedge] (\p) -- (\q);
		\foreach \p/\q in {b-hbs/b-aca, b-aca/b-pan, b-kin/b-btv, b-rmc/b-btv, b-btv/b-rao, b-btv/b-lch,
			b-erw/b-lch, b-erw/b-pse, b-pan/b-lch, b-lch/b-pse, b-rao/b-noc, b-noc/b-anp, b-agr/b-anp,
			b-hyp/b-anp, b-eth/b-anp, b-anp/b-clo, b-anp/b-ola, b-anp/b-san, b-anp/b-psb, b-san/b-lis,
			b-psb/b-amn, b-noc/b-psb, b-psb/b-ach, b-ach/b-sel, b-dya/b-qua, b-sel/b-qua, b-qua/b-lei,
			b-bor/b-flf, b-lei/b-nov, b-lei/b-gor, b-acv/b-stc, b-stc/b-tre, b-tre/b-lut, b-tre/b-muc,
			b-tre/b-vrx, b-muc/b-vrx, b-vrx/b-chr, b-chr/b-prv, b-prv/b-ols, b-dev/b-lea, b-all/b-bos,
			b-bla/b-lcl, b-ori/b-sph}
			\draw[negedge] (\p) -- (\q);

		\foreach \p/\q in {c-avx/c-aca, c-lch/c-ppv, c-lct/c-sgm, c-epi/c-ato, c-sel/c-cxv, c-cxv/c-mhb,
			c-tre/c-anp, c-eub/c-acv, c-agr/c-cyt, c-cyt/c-dya, c-dya/c-stp, c-mcl/c-dya, c-rho/c-vrx,
			c-vrx/c-cvb, c-vrx/c-stp, c-cvb/c-stp, c-stp/c-chr, c-sgb/c-ped, c-sgb/c-flv, c-hbs/c-flv,
			c-chr/c-brv, c-chr/c-ols, c-chr/c-hym, c-chr/c-flv, c-ped/c-ols, c-ped/c-flv, c-ped/c-chr,
			c-flv/c-ols, c-flv/c-spr, c-hym/c-spr, c-hym/c-esc, c-ols/c-hym, c-flv/c-hym}
			\draw[posedge] (\p) -- (\q);
		\foreach \p/\q in {c-sel/c-cst, c-cxv/c-cst, c-mic/c-c4, c-mog/c-btv, c-btv/c-cen, c-osc/c-deh,
			c-lis/c-eub, c-stp/c-rum, c-bla/c-sgb, c-chr/c-rum, c-rum/c-flv}
			\draw[negedge] (\p) -- (\q);

		\foreach \p/\q in {d-sla/d-anp, d-cvb/d-cen, d-sdl/d-avx, d-gor/d-c4, d-c4/d-acb, d-psr/d-dsv,
			d-acb/d-brv, d-brv/d-rhz, d-brv/d-flv, d-brv/d-spi, d-rhz/d-ana, d-rhz/d-flv, d-rhz/d-chr,
			d-ana/d-flv, d-flv/d-chr, d-flv/d-dya, d-chr/d-ped, d-ped/d-dya, d-ped/d-spi, d-dya/d-spi,
			d-chr/d-spi, d-spi/d-clv, d-spi/d-vrx, d-spi/d-hbs, d-spi/d-mcl, d-clv/d-mcl, d-vrx/d-hbs,
			d-vrx/d-mcl, d-cur/d-agr, d-agr/d-prb, d-agr/d-rhd, d-agr/d-ols, d-prb/d-acm, d-acm/d-ols,
			d-btv/d-rhd, d-btv/d-ols, d-rhd/d-pan, d-ols/d-pan, d-ols/d-nak, d-pan/d-eps, d-eps/d-flf}
			\draw[posedge] (\p) -- (\q);
		\foreach \p/\q in {d-ham/d-ori, d-dev/d-pae, d-rum/d-deh, d-aca/d-sph, d-psr/d-acb, d-dsv/d-acb,
			d-ana/d-chr, d-ana/d-eub, d-flv/d-eub, d-eub/d-ped, d-eub/d-dya, d-eub/d-spi, d-flv/d-spi,
			d-lis/d-psb, d-cur/d-psb, d-psb/d-agr, d-psb/d-sgm, d-agr/d-btv, d-prb/d-btv, d-acm/d-btv,
			d-btv/d-pan, d-pan/d-cop, d-cop/d-eps, d-cop/d-cmm}
			\draw[negedge] (\p) -- (\q);

		\foreach \p/\q in {e-cop/e-cvb, e-bla/e-lcb, e-olb/e-pbv, e-pbv/e-ach, e-ach/e-cen, e-dya/e-mcl,
			e-dya/e-sdv, e-mcl/e-sdv}
			\draw[posedge] (\p) -- (\q);
		\foreach \p/\q in {e-anv/e-alp, e-alp/e-acb, e-acb/e-hal, e-deh/e-lis, e-acm/e-prv, e-epi/e-ppv}
			\draw[negedge] (\p) -- (\q);

		\foreach \p/\q in {f-rik/f-pan, f-bla/f-ori, f-bla/f-spb, f-bla/f-css, f-spb/f-css, f-ham/f-prv,
			f-hal/f-ach, f-psb/f-hal, f-mog/f-c4, f-mog/f-ros, f-c4/f-ros, f-ros/f-osc, f-cxv/f-anp,
			f-mry/f-dya, f-mry/f-ped, f-mry/f-hyp, f-hbs/f-chr, f-spi/f-dya, f-spi/f-dap, f-spi/f-ped,
			f-spi/f-hyp, f-dya/f-hyp, f-dya/f-mes, f-dya/f-str, f-dya/f-dap, f-dya/f-sgm, f-vrx/f-mes,
			f-cur/f-hyp, f-dap/f-ped, f-dap/f-str, f-hyp/f-mes, f-mes/f-hbs, f-mes/f-ped, f-mes/f-sgm,
			f-hyp/f-str, f-hyp/f-chr, f-ped/f-sdg, f-btv/f-lis, f-str/f-mic, f-sgm/f-clv, f-sgm/f-rhz,
			f-mic/f-rhd, f-rhd/f-dsv, f-rhd/f-clv, f-clv/f-flv, f-flv/f-epi, f-rhz/f-mar, f-rhz/f-cen,
			f-rhz/f-gor, f-mar/f-bre, f-mar/f-pse, f-bre/f-gor, f-cen/f-bre}
			\draw[posedge] (\p) -- (\q);
		\foreach \p/\q in {f-pan/f-bac, f-lcb/f-bla, f-ori/f-spb, f-ori/f-css, f-psb/f-ach, f-osc/f-acm,
			f-ana/f-ols, f-mry/f-psv, f-psv/f-agr, f-rum/f-mes, f-rum/f-hbs, f-agr/f-btv, f-chr/f-sdg,
			f-btv/f-cpc, f-cpc/f-rhd, f-dev/f-mar, f-pse/f-ppv, f-gor/f-flf}
			\draw[negedge] (\p) -- (\q);

		\foreach \p/\q in {g-mry/g-epi, g-mic/g-deh, g-avx/g-deh, g-deh/g-ppv, g-ppv/g-mog, g-dya/g-ped,
			g-prv/g-eub, g-brv/g-rhd, g-mog/g-stc, g-mog/g-psb, g-mog/g-tre, g-stc/g-psb, g-stc/g-tre,
			g-psb/g-tre, g-tre/g-anp, g-anp/g-ach, g-anp/g-cen, g-cen/g-ach, g-sel/g-rmc}
			\draw[posedge] (\p) -- (\q);
		\foreach \p/\q in {g-eub/g-c4, g-c4/g-brv, g-c4/g-rhd, g-mvb/g-agr, g-ach/g-sel, g-ach/g-rmc,
			g-acb/g-chr}
			\draw[negedge] (\p) -- (\q);

		\foreach \p/\q in {h-acm/h-mvb, h-eub/h-rhz, h-rhz/h-lcb, h-vrx/h-brv, h-sla/h-stc, h-sla/h-tre,
			h-stc/h-anp, h-stc/h-mog, h-stc/h-tre, h-stc/h-ori, h-anp/h-mog, h-anp/h-tre, h-anp/h-ori,
			h-mog/h-sdl, h-sdl/h-ori, h-sdl/h-anv, h-tre/h-ori, h-ori/h-aps, h-sph/h-aps, h-aps/h-agr,
			h-agr/h-rhd, h-ped/h-flv, h-ped/h-sgm, h-ped/h-dya, h-sgm/h-dya, h-dya/h-prv, h-flv/h-prv}
			\draw[posedge] (\p) -- (\q);
		\foreach \p/\q in {h-cxv/h-olb, h-lcb/h-rmc}
			\draw[negedge] (\p) -- (\q);
	\end{pgfonlayer}

	\draw[frame] (917,57.5) -- (125.5,57.5) -- (125.5,1585);
	\draw[frame] (525.5,57.5) -- (525.5,1585);
	\foreach \y in {439.5, 822.5, 1205.5}
		\draw[frame] (125.5,\y) -- (917,\y);
\end{tikzpicture}
\end{document}
